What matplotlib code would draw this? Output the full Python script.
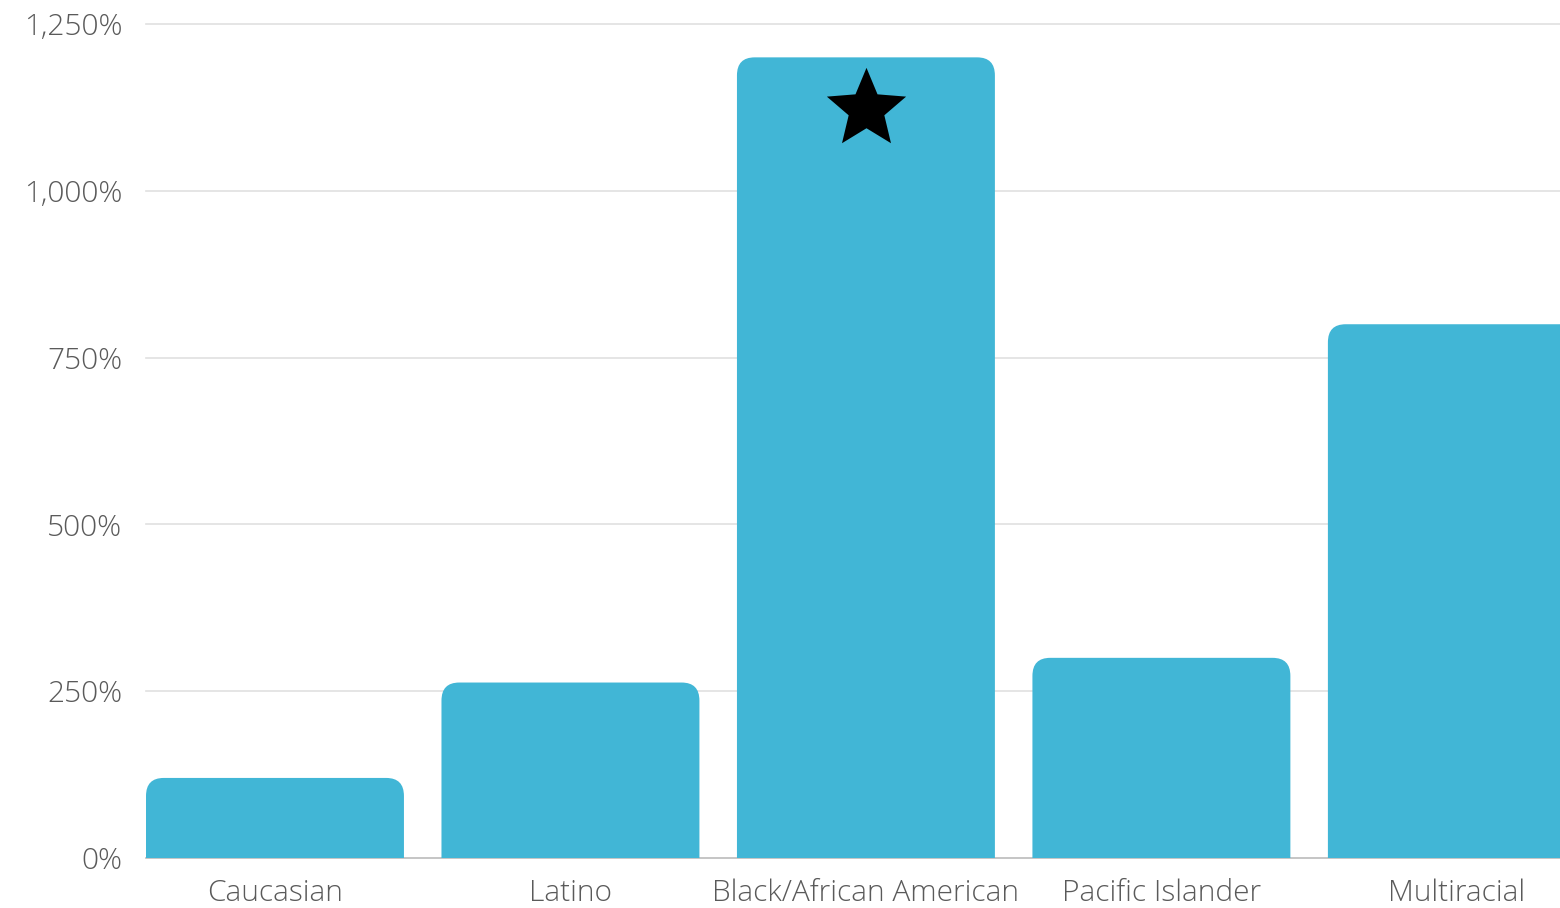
import matplotlib
matplotlib.use('Agg')
import numpy as np
import matplotlib.pyplot as plt
from matplotlib.patches import FancyBboxPatch
from matplotlib.path import Path
from matplotlib.ticker import FuncFormatter

# data
groups = ['Caucasian', 'Latino', 'Black/African American', 'Pacific Islander', 'Multiracial']
values = [120, 263, 1200, 300, 800]
yticks = [0, 250, 500, 750, 1000, 1250]
star_group = 2
star_value = 1122

plt.rcParams['font.family'] = ['Open Sans', 'DejaVu Sans']

fig = plt.figure(figsize=(15.6, 9.08), dpi=100)
ax = fig.add_axes([146 / 1560, 50 / 908, 1414 / 1560, 834 / 908])

bar_w = 0.873
bars = ax.bar(range(len(groups)), values, width=bar_w, color='none')
# rounded tops: swap each bar for a rounded box (bottom hidden under the axis)
for b in bars:
    x0, w, h = b.get_x(), b.get_width(), b.get_height()
    box = FancyBboxPatch((x0, -60), w, h + 60,
                         boxstyle='round,pad=0,rounding_size=0.06',
                         mutation_aspect=450, facecolor='#41b6d6',
                         edgecolor='none', zorder=3)
    ax.add_patch(box)
    b.set_visible(False)

# a slightly fuller star than the default '*'
ang = np.pi / 2 + np.arange(10) * np.pi / 5
rad = np.where(np.arange(10) % 2 == 0, 1.0, 0.45)
pts = np.column_stack([rad * np.cos(ang), rad * np.sin(ang)])
star = Path(np.vstack([pts, pts[:1]]), closed=True)
ax.plot([star_group], [star_value], marker=star, color='black',
        markersize=60, markeredgewidth=0, zorder=4, clip_on=False)

ax.set_xlim(-bar_w / 2, 4.349)
ax.set_ylim(0, 1250)
ax.set_yticks(yticks)
ax.yaxis.set_major_formatter(FuncFormatter(lambda v, p: '{:,.0f}%'.format(v)))
ax.set_xticks(range(len(groups)))
ax.set_xticklabels(groups)

for t in yticks:
    ax.axhline(t, color='#bbbbbb' if t == 0 else '#e0e0e0', lw=1.2,
               zorder=1 if t else 2, clip_on=False)

for s in ax.spines.values():
    s.set_visible(False)
ax.tick_params(axis='both', length=0, labelsize=21.5, colors='#5a5a5a')
ax.tick_params(axis='y', pad=17)
ax.tick_params(axis='x', pad=15)
for lab in ax.get_xticklabels() + ax.get_yticklabels():
    lab.set_fontweight('light')

fig.savefig('out.png', dpi=100)
